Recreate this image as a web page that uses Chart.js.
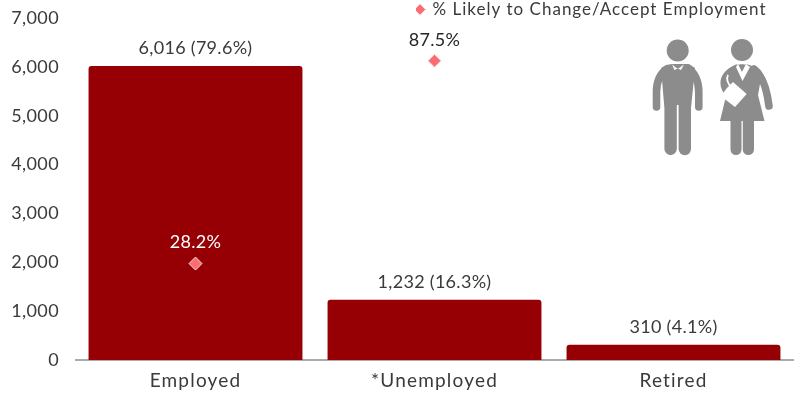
<!DOCTYPE html>
<html>
<head>
<meta charset="utf-8">
<style>
    html, body { margin: 0; padding: 0; background: #fff; overflow: hidden; }
    #wrap { position: relative; width: 797px; height: 393px; }
    #icons { position: absolute; left: 0; top: 0; pointer-events: none; }
</style>
<script src="https://cdn.jsdelivr.net/npm/chart.js@4"></script>
</head>
<body>
<div id="wrap">
    <canvas id="chartEmployment" width="797" height="393"></canvas>
    <!-- People icons, top right -->
    <svg id="icons" width="797" height="393" fill="#8c8c8c">
        <g>
            <circle cx="677.7" cy="50.5" r="11"/>
            <path d="M666 65 L672 64 L689 64 L695 68 L691 108 L691 149 A6.2 6.2 0 0 1 678.6 149 L678.6 105 L676.8 105 L676.8 149 A6.2 6.2 0 0 1 664.4 149 L664.4 108 L661 68 Z"/>
            <path d="M668 69 C660 72 656.5 82 656.5 92 L656.5 107" fill="none" stroke="#8c8c8c" stroke-width="7.6" stroke-linecap="round"/>
            <path d="M688 69 C695 72 698.8 82 698.8 92 L698.8 107" fill="none" stroke="#8c8c8c" stroke-width="7.6" stroke-linecap="round"/>
            <path d="M672 64.5 L677.7 69 L684 64.5 L681 70 L677.7 68.5 L674.5 70 Z" fill="#fff"/>
        </g>
        <g>
            <circle cx="742" cy="50" r="11"/>
            <path d="M736 64.5 L748 64.5 C757 67 761 72 760 84 L758 95 L764.5 121 L754 121 L754 149.5 A5.6 5.6 0 0 1 742.8 149.5 L742.8 121 L741.5 121 L741.5 149.5 A5.5 5.5 0 0 1 730.5 149.5 L730.5 121 L720 121 L726 96 C717 86 718 72 736 64.5 Z"/>
            <path d="M754 69 C762 75 767 90 769 106" fill="none" stroke="#8c8c8c" stroke-width="7.6" stroke-linecap="round"/>
            <path d="M738 64 L742 72 L746 64 L750 67 L742.5 81 L736 67 Z" fill="#fff"/>
            <path d="M740 64.5 L744 64.5 L742 69 Z" fill="#8c8c8c"/>
            <path d="M733 82 L746.7 94 L735 107 L720.7 96 L727 88 Z" fill="#fff"/>
            <path d="M728 75 C726 79 728 84 732 88" fill="none" stroke="#fff" stroke-width="1.8"/>
        </g>
    </svg>
</div>

<script>
// Data
const categories = ['Employed', '*Unemployed', 'Retired'];
const respondents = [6016, 1232, 310];
const respondentShares = [79.6, 16.3, 4.1];
const likelyToChange = [28.2, 87.5, null];
const likelyLabelColors = ['#ffffff', '#262626', '#262626'];
const yTicks = [0, 1000, 2000, 3000, 4000, 5000, 6000, 7000];

// Colors and font
const BAR_COLOR = '#960005';
const MARKER_COLOR = '#ff6b70';
const TEXT_COLOR = '#3a3a3a';
const FONT_FAMILY = 'Lato, sans-serif';
const FONT_SIZE = 18;

// Lato runs narrow here, so text gets a little tracking
function trackLabels(scale, spacing) {
    if (scale.trackedLabels) return;
    scale.trackedLabels = true;
    const drawLabels = scale.drawLabels;
    scale.drawLabels = function (chartArea) {
        const previous = this.ctx.letterSpacing;
        this.ctx.letterSpacing = spacing;
        drawLabels.call(this, chartArea);
        this.ctx.letterSpacing = previous;
    };
}

const tracking = {
    id: 'tracking',
    afterLayout(chart) {
        trackLabels(chart.scales.x, '1.2px');
        trackLabels(chart.scales.y, '0.4px');
    },
    beforeDraw(chart) {
        chart.ctx.letterSpacing = '1px';
    }
};

// Value labels above the bars and the diamonds
const valueLabels = {
    id: 'valueLabels',
    afterDatasetsDraw(chart) {
        const ctx = chart.ctx;
        ctx.save();
        ctx.letterSpacing = '0.3px';
        ctx.font = `${FONT_SIZE}px ${FONT_FAMILY}`;
        ctx.textAlign = 'center';
        ctx.textBaseline = 'middle';

        chart.getDatasetMeta(1).data.forEach((bar, i) => {
            const text = `${respondents[i].toLocaleString('en-US')} (${respondentShares[i].toFixed(1)}%)`;
            ctx.fillStyle = TEXT_COLOR;
            ctx.fillText(text, bar.x, bar.y - 18);
        });

        chart.getDatasetMeta(0).data.forEach((point, i) => {
            if (likelyToChange[i] === null) return;
            ctx.fillStyle = likelyLabelColors[i];
            ctx.fillText(`${likelyToChange[i].toFixed(1)}%`, point.x, point.y - 21);
        });
        ctx.restore();
    }
};

// The legend floats right of centre, on the very top edge above the plot
const legendOffset = {
    id: 'legendOffset',
    afterLayout(chart) {
        chart.legend.left = 416;
        chart.legend.top = 1;
    }
};

const chart = new Chart(document.getElementById('chartEmployment'), {
    data: {
        labels: categories,
        datasets: [
            {
                type: 'line',
                label: '% Likely to Change/Accept Employment',
                data: likelyToChange,
                yAxisID: 'yPercent',
                showLine: false,
                pointStyle: 'rectRot',
                pointRadius: 6.5,
                pointBackgroundColor: MARKER_COLOR,
                pointBorderColor: '#e4e4e4',
                pointBorderWidth: 1,
                backgroundColor: MARKER_COLOR,
                borderColor: MARKER_COLOR,
                order: 0
            },
            {
                type: 'bar',
                label: 'Respondents',
                data: respondents,
                yAxisID: 'y',
                backgroundColor: BAR_COLOR,
                borderRadius: { topLeft: 3, topRight: 3, bottomLeft: 0, bottomRight: 0 },
                borderSkipped: 'bottom',
                categoryPercentage: 1,
                barPercentage: 0.895,
                order: 1
            }
        ]
    },
    options: {
        responsive: false,
        animation: false,
        layout: { autoPadding: false, padding: { left: 0, right: 4, top: 18, bottom: 0 } },
        plugins: {
            tooltip: { enabled: false },
            legend: {
                display: true,
                position: 'chartArea',
                align: 'start',
                labels: {
                    color: TEXT_COLOR,
                    font: { family: FONT_FAMILY, size: 17 },
                    usePointStyle: true,
                    pointStyle: 'rectRot',
                    boxWidth: 8,
                    boxHeight: 8,
                    padding: 0,
                    filter: item => item.datasetIndex === 0
                }
            }
        },
        scales: {
            x: {
                // tick length only reserves the gap under the axis, the marks stay hidden
                grid: { display: false, drawTicks: true, tickLength: 9 },
                border: { color: '#ababab', width: 2 },
                ticks: {
                    color: TEXT_COLOR,
                    font: { family: FONT_FAMILY, size: 19 },
                    padding: 0,
                    maxRotation: 0
                },
                afterFit: scale => { scale.height = 33; }
            },
            y: {
                min: 0,
                max: 7000,
                // same trick for the gap between labels and bars
                grid: { display: false, drawTicks: true, tickLength: 17 },
                border: { display: false },
                afterBuildTicks: scale => { scale.ticks = yTicks.map(value => ({ value })); },
                ticks: {
                    color: TEXT_COLOR,
                    font: { family: FONT_FAMILY, size: FONT_SIZE },
                    padding: 0,
                    callback: value => value.toLocaleString('en-US')
                },
                afterFit: scale => { scale.width = 76; }
            },
            yPercent: {
                display: false,
                min: 0,
                max: 100
            }
        }
    },
    plugins: [tracking, valueLabels, legendOffset]
});
</script>
</body>
</html>
